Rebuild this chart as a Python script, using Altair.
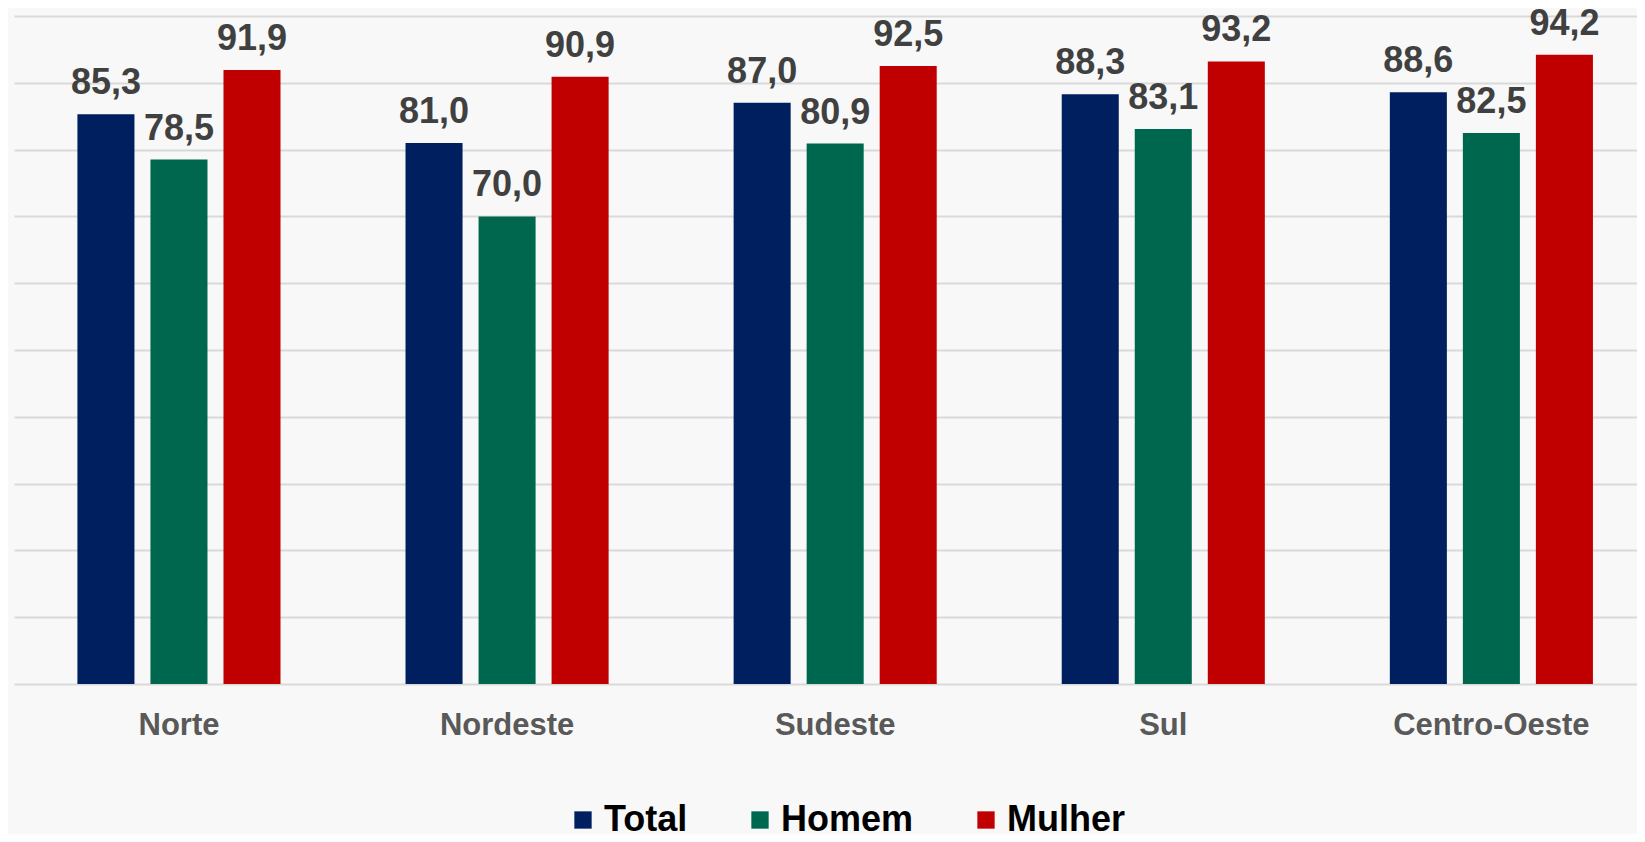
import altair as alt
import pandas as pd

regions = ["Norte", "Nordeste", "Sudeste", "Sul", "Centro-Oeste"]
series = ["Total", "Homem", "Mulher"]
total = [85.3, 81.0, 87.0, 88.3, 88.6]
homem = [78.5, 70.0, 80.9, 83.1, 82.5]
mulher = [91.9, 90.9, 92.5, 93.2, 94.2]
colors = ["#001F5F", "#00674F", "#C00000"]
grid_values = [0, 10, 20, 30, 40, 50, 60, 70, 80, 90, 100]

rows = []
for i, r in enumerate(regions):
    for s, vals in zip(series, [total, homem, mulher]):
        rows.append({"Região": r, "Série": s, "Valor": vals[i],
                     "Rótulo": f"{vals[i]:.1f}".replace(".", ",")})
df = pd.DataFrame(rows)

FONT = "Liberation Sans"

x = alt.X("Região:N", sort=regions,
          scale=alt.Scale(paddingInner=0.381, paddingOuter=0.1638, align=0.59),
          axis=alt.Axis(title=None, labelAngle=0, labelFont=FONT, labelFontSize=31,
                        labelFontWeight="bold", labelColor="#595959", labelPadding=26,
                        labelLimit=500, ticks=False, domain=False, grid=False))
xo = alt.XOffset("Série:N", sort=series, scale=alt.Scale(paddingInner=0.219, paddingOuter=0))
y = alt.Y("Valor:Q", scale=alt.Scale(domain=[0, 100]),
          axis=alt.Axis(title=None, labels=False, ticks=False, domain=False,
                        values=grid_values, gridColor="#D9D9D9", gridWidth=2))
color = alt.Color("Série:N", sort=series,
                  scale=alt.Scale(domain=series, range=colors),
                  legend=alt.Legend(orient="none", legendX=551, legendY=786,
                                    direction="horizontal", title=None,
                                    symbolType="square", symbolSize=300,
                                    symbolStrokeWidth=0, symbolOpacity=1,
                                    labelFont=FONT, labelFontSize=36,
                                    labelFontWeight="bold", labelColor="#000000",
                                    labelOffset=3, columnPadding=54, padding=0,
                                    labelLimit=400))

bars = alt.Chart(df).mark_bar().encode(x=x, xOffset=xo, y=y, color=color)
text = alt.Chart(df).mark_text(dy=-20, baseline="alphabetic", font=FONT, fontSize=36,
                               fontWeight="bold", color="#404040").encode(
    x=x, xOffset=xo, y=alt.Y("Valor:Q"), text="Rótulo:N")

chart = alt.layer(bars, text).properties(
    width=1623, height=668,
    padding={"left": 6, "top": 8, "right": 0, "bottom": 150},
    autosize=alt.AutoSizeParams(type="none"),
    background="#F8F8F8",
).configure_view(stroke=None)

chart.save("out.html", embed_options={"renderer": "svg", "actions": False})
